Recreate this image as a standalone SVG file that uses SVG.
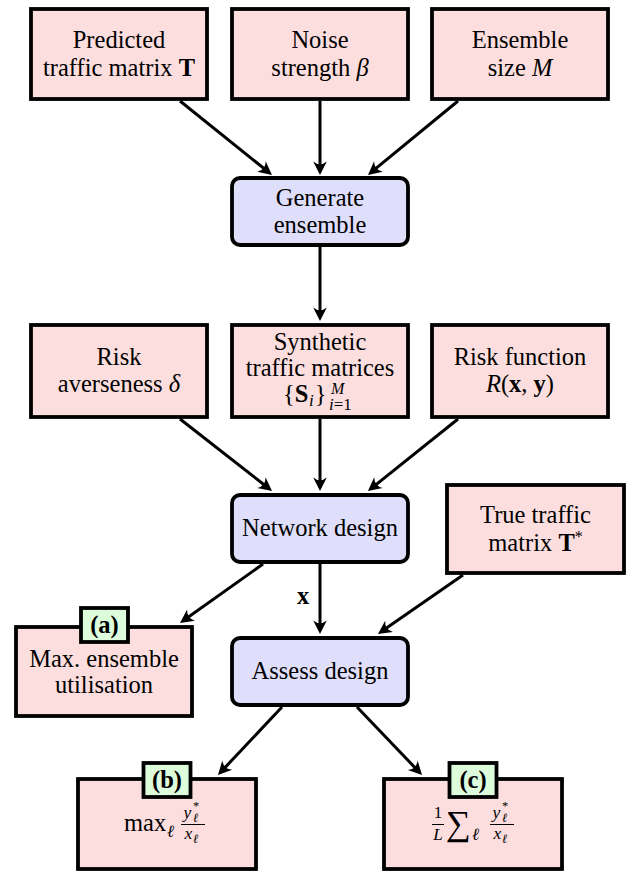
<svg xmlns="http://www.w3.org/2000/svg" width="641" height="873" viewBox="0 0 641 873" font-size="24.5">
<style>
text{font-family:"Liberation Serif","DejaVu Serif",serif;fill:#000;}
.c{text-anchor:middle;}
.b{font-weight:bold;}
.i{font-style:italic;}
.pink{fill:#fddede;stroke:#000;stroke-width:3.8;}
.blue{fill:#dfdffc;stroke:#000;stroke-width:3.8;}
.green{fill:#dcfcdc;stroke:#000;stroke-width:3.8;}
.edge{stroke:#000;stroke-width:3;fill:none;marker-end:url(#ah);}
.bar{stroke:#000;stroke-width:1;}
</style>
<defs>
<marker id="ah" viewBox="-15 -8 17 16" refX="-6" refY="0" markerWidth="17" markerHeight="16" markerUnits="userSpaceOnUse" orient="auto">
<path d="M0,0 L-13.5,-6.8 Q-8,0 -13.5,6.8 Z" fill="#000"/>
</marker>
</defs>

<g id="connectors">
<line class="edge" x1="180" y1="101" x2="267.3" y2="171.2"/>
<line class="edge" x1="320" y1="101" x2="320" y2="169"/>
<line class="edge" x1="458" y1="101" x2="372.6" y2="171.2"/>
<line class="edge" x1="320" y1="247" x2="320" y2="315"/>
<line class="edge" x1="180" y1="419" x2="267.3" y2="487.3"/>
<line class="edge" x1="320" y1="419" x2="320" y2="485"/>
<line class="edge" x1="458" y1="419" x2="372.6" y2="487.3"/>
<line class="edge" x1="263" y1="564" x2="184.9" y2="619.5"/>
<line class="edge" x1="320" y1="564" x2="320" y2="628"/>
<line class="edge" x1="463" y1="575" x2="382.9" y2="630.6"/>
<line class="edge" x1="282" y1="707" x2="222.1" y2="770.6"/>
<line class="edge" x1="357" y1="707" x2="417.9" y2="770.7"/>
<text class="b c" x="303" y="604">x</text>
</g>

<g id="predicted">
<rect class="pink" x="31" y="9" width="176" height="90"/>
<text class="c" x="119" y="48">Predicted</text>
<text class="c" x="119" y="76">traffic matrix <tspan class="b">T</tspan></text>
</g>
<g id="noise">
<rect class="pink" x="232" y="9" width="176" height="90"/>
<text class="c" x="320" y="48">Noise</text>
<text class="c" x="320" y="76">strength <tspan class="i">β</tspan></text>
</g>
<g id="ensemble-size">
<rect class="pink" x="432" y="9" width="176" height="90"/>
<text class="c" x="520" y="48">Ensemble</text>
<text class="c" x="520" y="76">size <tspan class="i">M</tspan></text>
</g>

<g id="generate">
<rect class="blue" x="232" y="178" width="176" height="67" rx="8"/>
<text class="c" x="320" y="206">Generate</text>
<text class="c" x="320" y="233">ensemble</text>
</g>

<g id="risk-aversion">
<rect class="pink" x="31" y="325" width="176" height="92"/>
<text class="c" x="119" y="365">Risk</text>
<text class="c" x="119" y="392">averseness <tspan class="i">δ</tspan></text>
</g>
<g id="synthetic">
<rect class="pink" x="232" y="325" width="176" height="92"/>
<text class="c" x="320" y="350">Synthetic</text>
<text class="c" x="320" y="376">traffic matrices</text>
<text x="283" y="402">{<tspan class="b">S</tspan><tspan class="i" font-size="17" dy="4" dx="0.5">i</tspan><tspan dy="-4" dx="1">}</tspan></text>
<text class="i" x="331" y="394" font-size="16">M</text>
<text x="329" y="410" font-size="17"><tspan class="i">i</tspan>=1</text>
</g>
<g id="risk-function">
<rect class="pink" x="432" y="325" width="176" height="92"/>
<text class="c" x="520" y="365">Risk function</text>
<text class="c" x="520" y="392"><tspan class="i">R</tspan>(<tspan class="b">x</tspan>, <tspan class="b">y</tspan>)</text>
</g>

<g id="network-design">
<rect class="blue" x="232" y="495" width="176" height="67" rx="8"/>
<text class="c" x="320" y="536">Network design</text>
</g>
<g id="true-traffic">
<rect class="pink" x="447" y="485" width="177" height="88"/>
<text class="c" x="535.5" y="523">True traffic</text>
<text class="c" x="535.5" y="551">matrix <tspan class="b">T</tspan><tspan font-size="16" dy="-9">*</tspan></text>
</g>

<g id="max-ensemble">
<rect class="pink" x="16" y="627" width="176" height="89"/>
<text class="c" x="104" y="667">Max. ensemble</text>
<text class="c" x="104" y="693">utilisation</text>
<rect class="green" x="81" y="608" width="47" height="34"/>
<text class="c b" x="104.5" y="633">(a)</text>
</g>

<g id="assess-design">
<rect class="blue" x="232" y="638" width="176" height="67" rx="8"/>
<text class="c" x="320" y="679">Assess design</text>
</g>

<g id="max-ratio">
<rect class="pink" x="78" y="779" width="178" height="90"/>
<rect class="green" x="143.5" y="763" width="47" height="34"/>
<text class="c b" x="167" y="788">(b)</text>
<text x="124" y="831">max</text>
<text class="i" x="167" y="837" font-size="17">ℓ</text>
<text class="i" x="183.5" y="818" font-size="17.5">y</text>
<text x="193" y="810" font-size="12.5">*</text>
<text class="i" x="193" y="822" font-size="12.5">ℓ</text>
<line class="bar" x1="181" y1="824.5" x2="205" y2="824.5"/>
<text class="i" x="184.5" y="839" font-size="17.5">x</text>
<text class="i" x="193" y="843" font-size="12.5">ℓ</text>
</g>

<g id="mean-ratio">
<rect class="pink" x="384" y="779" width="178" height="90"/>
<rect class="green" x="449.5" y="763" width="47" height="34"/>
<text class="c" x="473" y="788" font-weight="bold">(c)</text>
<text class="c" x="438" y="818" font-size="17">1</text>
<line class="bar" x1="432" y1="824.5" x2="444" y2="824.5"/>
<text class="c i" x="438" y="840" font-size="17">L</text>
<text x="446" y="835" font-size="35">∑</text>
<text class="i" x="472" y="840" font-size="17">ℓ</text>
<text class="i" x="492.5" y="818" font-size="17.5">y</text>
<text x="502" y="810" font-size="12.5">*</text>
<text class="i" x="502" y="822" font-size="12.5">ℓ</text>
<line class="bar" x1="490" y1="824.5" x2="514" y2="824.5"/>
<text class="i" x="493.5" y="839" font-size="17.5">x</text>
<text class="i" x="502" y="843" font-size="12.5">ℓ</text>
</g>
</svg>
